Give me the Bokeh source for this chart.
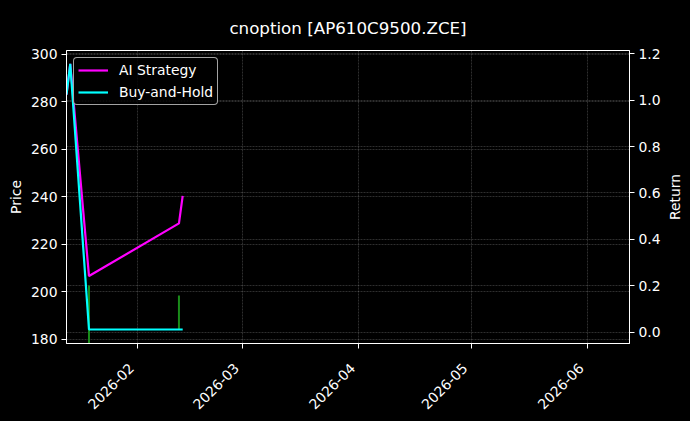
import math
import pandas as pd
from bokeh.plotting import figure
from bokeh.layouts import row
from bokeh.models import (Range1d, LinearAxis, FixedTicker, Grid, Legend,
                          LegendItem, ColumnDataSource, InlineStyleSheet)
from bokeh.embed import file_html
from bokeh.resources import INLINE

# ---------------- data ----------------
title_text = "cnoption [AP610C9500.ZCE]"
dates = ["2026-01-13", "2026-01-14", "2026-01-19", "2026-02-12", "2026-02-13"]
ai_strategy = [283.0, 296.0, 206.6, 228.8, 240.4]
buy_and_hold = [283.0, 296.0, 184.1, 184.1, 184.1]
signal_dates = ["2026-01-19", "2026-02-12"]
signal_low = [170.0, 184.0]
signal_high = [202.6, 198.4]
month_ticks = ["2026-02-01", "2026-03-01", "2026-04-01", "2026-05-01", "2026-06-01"]
month_labels = ["2026-02", "2026-03", "2026-04", "2026-05", "2026-06"]
price_ticks = [180, 200, 220, 240, 260, 280, 300]
return_ticks = [0.0, 0.2, 0.4, 0.6, 0.8, 1.0, 1.2]
return_labels = ["0.0", "0.2", "0.4", "0.6", "0.8", "1.0", "1.2"]
left_label = "Price"
right_label = "Return"

FONT = "DejaVu Sans"
FS = "13.9px"
NB = "\u00a0\u00a0"  # pads rotated labels so they end left of their tick, as in the reference

src = ColumnDataSource(dict(date=pd.to_datetime(dates), ai=ai_strategy, bh=buy_and_hold))
sig = ColumnDataSource(dict(date=pd.to_datetime(signal_dates), lo=signal_low, hi=signal_high))

clip = InlineStyleSheet(css=":host { max-height: 421px !important; overflow: hidden !important; }")

p = figure(frame_width=563, frame_height=301, x_axis_type="datetime",
           output_backend="svg", toolbar_location=None,
           x_range=Range1d(pd.Timestamp("2026-01-13 00:00"), pd.Timestamp("2026-06-12 05:00")),
           y_range=Range1d(178.2, 301.6),
           min_border_left=66, min_border_right=31, min_border_top=50, min_border_bottom=70,
           background_fill_color="black", border_fill_color="black",
           outline_line_color="white", outline_line_width=1,
           title=title_text)
p.stylesheets = [clip]
p.extra_y_ranges = {"ret": Range1d(-0.049, 1.214)}

p.title.align = "center"
p.title.vertical_align = "bottom"
p.title.text_color = "white"
p.title.text_font = FONT
p.title.text_font_size = "16.7px"
p.title.text_font_style = "normal"
p.title.standoff = 26

# x ticks
month_ms = [int(pd.Timestamp(d).value // 10**6) for d in month_ticks]
p.xaxis.ticker = FixedTicker(ticks=month_ms)
p.xaxis.major_label_overrides = {m: l + NB for m, l in zip(month_ms, month_labels)}
p.xaxis.major_label_orientation = math.pi / 4

p.yaxis.ticker = FixedTicker(ticks=price_ticks)
p.yaxis.axis_label = left_label

ret_ticker = FixedTicker(ticks=return_ticks)
raxis = LinearAxis(y_range_name="ret", ticker=ret_ticker)
raxis.major_label_overrides = {t: l for t, l in zip(return_ticks, return_labels)}
p.add_layout(raxis, "right")

for ax in [p.xaxis[0], p.yaxis[0], raxis]:
    ax.axis_line_color = "white"
    ax.major_tick_line_color = "white"
    ax.major_tick_out = 5
    ax.major_tick_in = 0
    ax.minor_tick_line_color = None
    ax.major_label_text_color = "white"
    ax.major_label_text_font = FONT
    ax.major_label_text_font_size = FS
    ax.major_label_standoff = 4
    ax.axis_label_text_color = "white"
    ax.axis_label_text_font = FONT
    ax.axis_label_text_font_size = FS
    ax.axis_label_text_font_style = "normal"
    ax.axis_label_standoff = 4
p.xaxis.major_label_standoff = 11
p.xaxis.axis_label_standoff = 0
raxis.axis_label_standoff = 0

for g in [p.xgrid[0], p.ygrid[0]]:
    g.grid_line_color = "white"
    g.grid_line_alpha = 0.3
    g.grid_line_dash = "2 1"
    g.grid_line_width = 0.6

rgrid = Grid(dimension=1, ticker=ret_ticker, y_range_name="ret",
             grid_line_color="white", grid_line_alpha=0.3,
             grid_line_dash="2 1", grid_line_width=0.6)
p.add_layout(rgrid)

p.segment(x0="date", y0="lo", x1="date", y1="hi", source=sig,
          line_color="#1a8c1a", line_width=2)
r_ai = p.line("date", "ai", source=src, line_color="#ff00ff", line_width=2.2)
r_bh = p.line("date", "bh", source=src, line_color="#00ffff", line_width=2.2)

legend = Legend(items=[LegendItem(label="AI Strategy", renderers=[r_ai]),
                       LegendItem(label="Buy-and-Hold", renderers=[r_bh])],
                location="top_left", margin=7, padding=4, spacing=6,
                glyph_width=30, glyph_height=14, label_height=14,
                label_standoff=11, label_text_color="white",
                label_text_font=FONT, label_text_font_size=FS,
                background_fill_color="black", background_fill_alpha=0.8,
                border_line_color="#cccccc", border_line_alpha=0.8,
                border_radius=4)
p.add_layout(legend)

# narrow strip carrying the right-hand axis title, read bottom-to-top like the reference
p2 = figure(width=29, height=421, output_backend="svg", toolbar_location=None,
            x_range=Range1d(0, 1), y_range=Range1d(-0.049, 1.214),
            min_border_left=18, min_border_right=0, min_border_top=50, min_border_bottom=70,
            background_fill_color="black", border_fill_color="black",
            outline_line_color=None)
p2.xaxis.visible = False
p2.grid.visible = False
ya = p2.yaxis[0]
ya.ticker = FixedTicker(ticks=[])
ya.axis_line_color = None
ya.major_tick_line_color = None
ya.minor_tick_line_color = None
ya.major_tick_out = 0
ya.major_tick_in = 0
ya.minor_tick_out = 0
ya.minor_tick_in = 0
ya.major_label_standoff = 0
ya.axis_label = right_label
ya.axis_label_standoff = 0
ya.axis_label_text_color = "white"
ya.axis_label_text_font = FONT
ya.axis_label_text_font_size = FS
ya.axis_label_text_font_style = "normal"

layout = row(p, p2, spacing=0, styles={"background-color": "black"})

open("out.html", "w").write(file_html(layout, INLINE))
